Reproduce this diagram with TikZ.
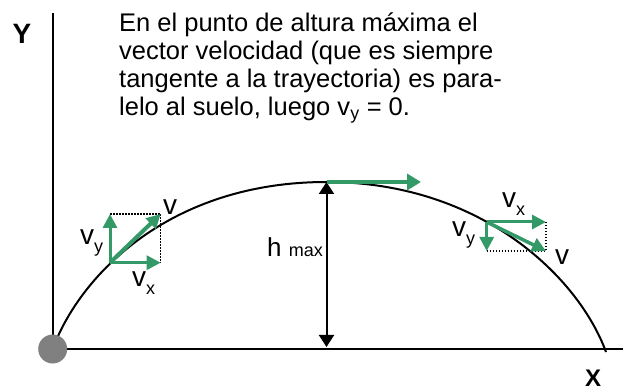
\documentclass[tikz,border=0pt]{standalone}
\usepackage{fontspec}
\setmainfont{Liberation Sans}
\usetikzlibrary{arrows.meta}
\definecolor{verdeVector}{HTML}{339966}
\definecolor{grisPunto}{HTML}{808080}
\newcommand{\indiceV}[1]{\raisebox{-8pt}{\fontsize{18}{18}\selectfont #1}}

\begin{document}
\begin{tikzpicture}[x=1pt,y=-1pt,
  eje/.style={line width=2pt},
  trayectoria/.style={line width=2pt},
  punteado/.style={line width=1.2pt,dash pattern=on 1.5pt off 1.5pt},
  vector/.style={verdeVector,line width=3pt,-{Triangle[length=14pt,width=14pt]}},
  vectorCima/.style={verdeVector,line width=4pt,-{Triangle[length=14pt,width=16pt]}},
  flechaAltura/.style={line width=2pt,{Triangle[length=12pt,width=15pt]}-{Triangle[length=12pt,width=15pt]}},
  etiqueta/.style={inner sep=0pt,anchor=base west,font=\fontsize{28}{28}\selectfont},
  nombreEje/.style={inner sep=0pt,font=\bfseries\fontsize{#1}{#1}\selectfont},
  texto/.style={inner sep=0pt,anchor=north west,align=left,font=\fontsize{25.5}{28}\selectfont}]
\useasboundingbox (0,0) rectangle (627,390);

\coordinate (origen) at (52.7,349);
\coordinate (topeY) at (52.7,13);
\coordinate (topeX) at (623,349);
\coordinate (cima) at (326.5,182);
\coordinate (pieCima) at (326.5,347);
\coordinate (puntaCima) at (421,182);
\coordinate (caida) at (606,352);

\draw[eje] (topeY) -- (origen) -- (topeX);
\draw[trayectoria] (origen) .. controls (80,275) and (170,182) .. (cima)
  .. controls (482,182) and (579,278) .. (caida);
\fill[grisPunto] (origen) circle (14.5);

\draw[flechaAltura] (cima) -- (pieCima);
\draw[vectorCima] (cima) -- (puntaCima);

% subida
\coordinate (baseIzq) at (110,262.7);
\coordinate (vyIzq) at (110,214);
\coordinate (vxIzq) at (160.7,262.7);
\coordinate (vIzq) at (160.7,214);
\draw[punteado] (vyIzq) -- (vIzq) -- (vxIzq);
\draw[vector] (baseIzq) -- (vyIzq);
\draw[vector] (baseIzq) -- (vxIzq);
\draw[vector,line width=4pt] (baseIzq) -- (vIzq);

% bajada
\coordinate (baseDer) at (486.7,222);
\coordinate (vxDer) at (546,222);
\coordinate (vyDer) at (486.7,251);
\coordinate (vDer) at (546,251);
\draw[punteado] (vyDer) -- (vDer) -- (vxDer);
\draw[vector] (baseDer) -- (vyDer);
\draw[vector] (baseDer) -- (vxDer);
\draw[vector,line width=3.5pt] (baseDer) -- (vDer);

\node[nombreEje=28] (ejeY) at (22,34) {Y};
\node[nombreEje=24] (ejeX) at (593,378) {X};

\node[etiqueta] (etV1) at (163,215) {v};
\node[etiqueta] (etVy1) at (80,245) {v\indiceV{y}};
\node[etiqueta] (etVx1) at (132,287) {v\indiceV{x}};
\node[etiqueta] (etVx2) at (502,208) {v\indiceV{x}};
\node[etiqueta] (etVy2) at (452,237) {v\indiceV{y}};
\node[etiqueta] (etV2) at (555,265) {v};
\node[inner sep=0pt,anchor=base west,font=\fontsize{26}{26}\selectfont] (etH) at (267,257)
  {h {\fontsize{18}{18}\selectfont max}};

\node[texto] (explicacion) at (119,12.5) {En el punto de altura máxima el\\
vector velocidad (que es siempre\\
tangente a la trayectoria) es para-\\
lelo al suelo, luego v\textsubscript{y} = 0.};
\end{tikzpicture}
\end{document}
